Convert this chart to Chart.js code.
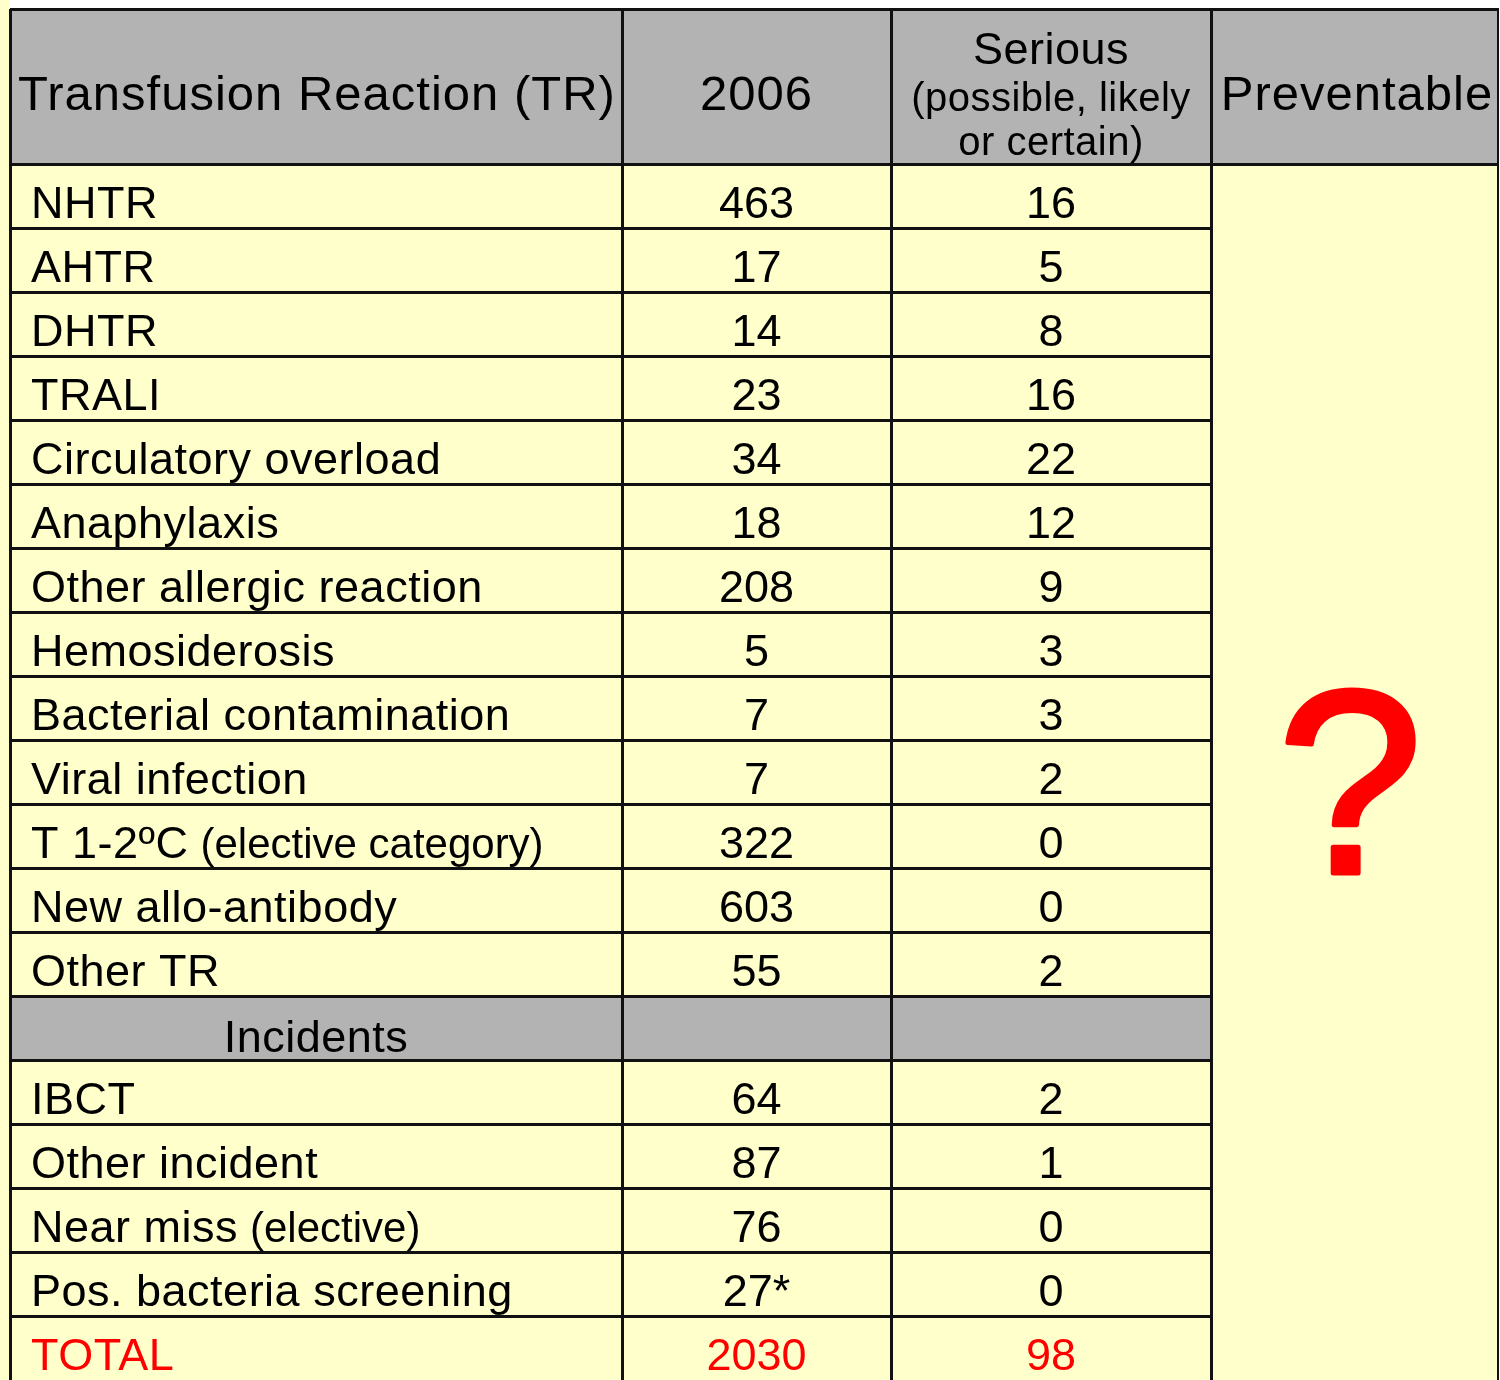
<!DOCTYPE html>
<html>
<head>
<meta charset="utf-8">
<script src="https://cdn.jsdelivr.net/npm/chart.js@4.4.1/dist/chart.umd.min.js"></script>
<style>
  html, body { margin: 0; padding: 0; background: #fff; overflow: hidden; }
  canvas { display: block; }
</style>
</head>
<body>
<canvas id="trTable" width="1500" height="1380"></canvas>
<script>
// Rows of the table (top to bottom)
const reactions = [
    'NHTR', 'AHTR', 'DHTR', 'TRALI', 'Circulatory overload', 'Anaphylaxis',
    'Other allergic reaction', 'Hemosiderosis', 'Bacterial contamination',
    'Viral infection', 'T 1-2ºC', 'New allo-antibody', 'Other TR',
    'Incidents', 'IBCT', 'Other incident', 'Near miss', 'Pos. bacteria screening', 'TOTAL'
];
const reactionNotes = ['', '', '', '', '', '', '', '', '', '', '(elective category)', '', '',
    '', '', '', '(elective)', '', ''];
const counts2006 = [463, 17, 14, 23, 34, 18, 208, 5, 7, 7, 322, 603, 55, null, 64, 87, 76, 27, 2030];
const countMarks = ['', '', '', '', '', '', '', '', '', '', '', '', '', '', '', '', '', '*', ''];
const seriousCounts = [16, 5, 8, 16, 22, 12, 9, 3, 3, 2, 0, 0, 2, null, 2, 1, 0, 0, 98];

const headerReaction = 'Transfusion Reaction (TR)';
const headerYear = '2006';
const headerSerious = ['Serious', '(possible, likely', 'or certain)'];
const headerPreventable = 'Preventable';
const preventableMark = '?';
const sectionRow = 'Incidents';
const totalRow = 'TOTAL';

// Layout
const COL_WIDTHS = [612, 269, 320, 288];
const TABLE_TOP = 9;
const FONT = "'Liberation Sans', Arial, sans-serif";
const GREY = '#b3b3b3';
const YELLOW = '#ffffcc';
const RED = '#ff0000';

const colEdges = COL_WIDTHS.reduce((acc, w) => { acc.push(acc[acc.length - 1] + w); return acc; }, [0]);

const tablePlugin = {
    id: 'tablePlugin',
    afterDraw(chart) {
        const ctx = chart.ctx;
        const xs = chart.scales.x;
        const ys = chart.scales.y;
        const area = chart.chartArea;
        const ex = colEdges.map(v => xs.getPixelForValue(v));
        const band = Math.abs(ys.getPixelForValue(1) - ys.getPixelForValue(0));
        const top = i => ys.getPixelForValue(i) - band / 2;
        const mid = i => ys.getPixelForValue(i);
        const colMid = c => (ex[c] + ex[c + 1]) / 2;
        const secIdx = reactions.indexOf(sectionRow);

        ctx.save();
        // page background
        ctx.fillStyle = '#fff';
        ctx.fillRect(0, 0, chart.width, chart.height);
        ctx.fillStyle = YELLOW;
        ctx.fillRect(0, 0, ex[0], chart.height);

        // header + body fills
        ctx.fillStyle = GREY;
        ctx.fillRect(ex[0], TABLE_TOP, ex[4] - ex[0], area.top - TABLE_TOP);
        ctx.fillStyle = YELLOW;
        ctx.fillRect(ex[0], area.top, ex[4] - ex[0], area.bottom - area.top);
        ctx.fillStyle = GREY;
        ctx.fillRect(ex[0], top(secIdx), ex[3] - ex[0], band);

        // grid lines
        ctx.strokeStyle = '#111';
        ctx.lineWidth = 3;
        ctx.beginPath();
        ctx.moveTo(ex[0], TABLE_TOP + 0.5); ctx.lineTo(ex[4], TABLE_TOP + 0.5);
        ctx.moveTo(ex[0], area.top + 0.5); ctx.lineTo(ex[4], area.top + 0.5);
        for (let i = 1; i < reactions.length; i++) {
            const yy = Math.round(top(i)) + 0.5;
            ctx.moveTo(ex[0], yy); ctx.lineTo(ex[3], yy);
        }
        [0, 1, 2, 3].forEach(c => {
            const xx = Math.round(ex[c]) + 0.5;
            ctx.moveTo(xx, TABLE_TOP); ctx.lineTo(xx, area.bottom);
        });
        ctx.stroke();
        ctx.lineWidth = 2;
        ctx.beginPath();
        ctx.moveTo(ex[4] - 1, TABLE_TOP); ctx.lineTo(ex[4] - 1, area.bottom);
        ctx.stroke();

        // header text
        const hMid = (TABLE_TOP + area.top) / 2;
        ctx.fillStyle = '#000';
        ctx.textBaseline = 'alphabetic';
        ctx.textAlign = 'center';
        ctx.font = `49px ${FONT}`;
        ctx.letterSpacing = '1px';
        ctx.fillText(headerReaction, colMid(0) + 1, hMid + 23);
        ctx.fillText(headerYear, colMid(1), hMid + 23);
        ctx.fillText(headerPreventable, colMid(3) + 2, hMid + 23);
        ctx.letterSpacing = '0.5px';
        ctx.font = `45px ${FONT}`;
        ctx.fillText(headerSerious[0], colMid(2), hMid - 23);
        ctx.font = `40px ${FONT}`;
        ctx.fillText(headerSerious[1], colMid(2), hMid + 24.5);
        ctx.fillText(headerSerious[2], colMid(2), hMid + 68.5);

        // body rows
        reactions.forEach((name, i) => {
            const base = mid(i) + 22;
            ctx.fillStyle = name === totalRow ? RED : '#000';
            ctx.font = `45px ${FONT}`;
            ctx.letterSpacing = '0.5px';
            if (name === sectionRow) {
                ctx.textAlign = 'center';
                ctx.fillText(name, colMid(0), base + 2);
                return;
            }
            ctx.textAlign = 'left';
            const lx = ex[0] + 21;
            ctx.fillText(name, lx, base);
            if (reactionNotes[i]) {
                const w = ctx.measureText(name).width;
                ctx.font = `42px ${FONT}`;
                ctx.letterSpacing = '0px';
                ctx.fillText(reactionNotes[i], lx + w + 12, base);
                ctx.font = `45px ${FONT}`;
                ctx.letterSpacing = '0.5px';
            }
            ctx.textAlign = 'center';
            ctx.letterSpacing = '0px';
            if (counts2006[i] !== null) ctx.fillText(counts2006[i] + countMarks[i], colMid(1), base);
            if (seriousCounts[i] !== null) ctx.fillText(String(seriousCounts[i]), colMid(2), base);
        });

        // preventable column: big red question mark
        const bodyMid = (area.top + area.bottom) / 2;
        ctx.fillStyle = RED;
        ctx.strokeStyle = RED;
        ctx.lineWidth = 5;
        ctx.lineJoin = 'round';
        ctx.textAlign = 'center';
        ctx.font = `262px ${FONT}`;
        ctx.fillText(preventableMark, colMid(3) - 5, bodyMid + 101);
        ctx.strokeText(preventableMark, colMid(3) - 5, bodyMid + 101);
        ctx.restore();
    }
};

new Chart(document.getElementById('trTable'), {
    type: 'scatter',
    data: {
        labels: reactions,
        datasets: [{ data: [], pointRadius: 0 }]
    },
    options: {
        responsive: false,
        animation: false,
        events: [],
        layout: { padding: { left: 10, right: 1, top: 164, bottom: 0 } },
        plugins: { legend: { display: false }, tooltip: { enabled: false } },
        scales: {
            x: { type: 'linear', min: 0, max: colEdges[colEdges.length - 1], display: false },
            y: { type: 'category', labels: reactions, offset: true, bounds: 'ticks', display: false }
        }
    },
    plugins: [tablePlugin]
});
</script>
</body>
</html>
